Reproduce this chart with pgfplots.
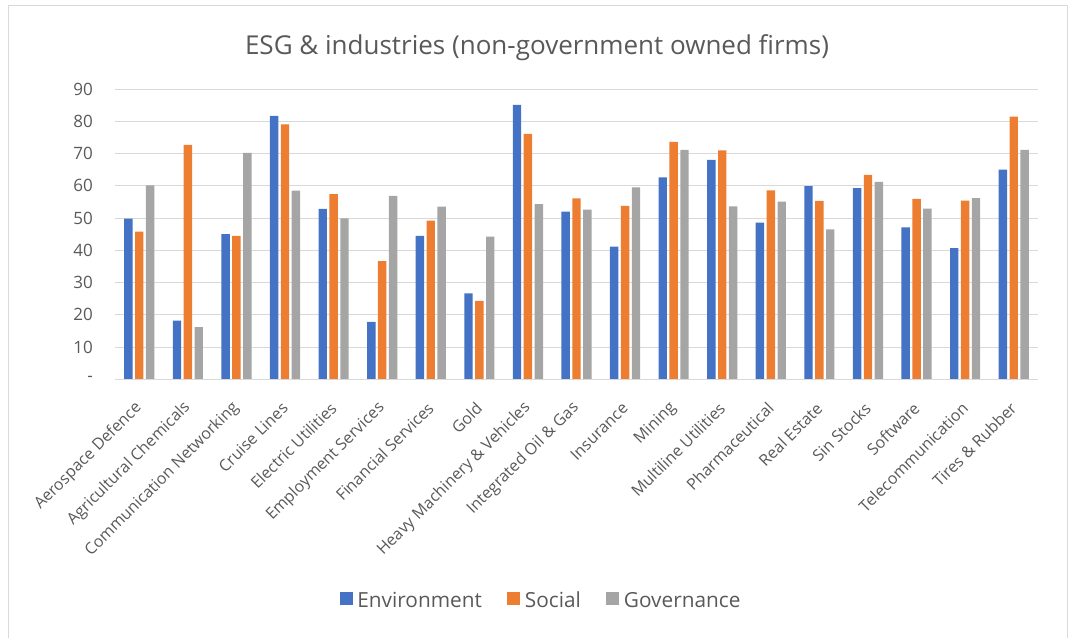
\documentclass[border=0pt]{standalone}
\usepackage{pgfplots}
\pgfplotsset{compat=1.18}
\usepackage{pgfplotstable}
\usepackage{fontspec}
\setmainfont{Open Sans}
\definecolor{cEnv}{HTML}{4472C4}
\definecolor{cSoc}{HTML}{ED7D31}
\definecolor{cGov}{HTML}{A5A5A5}
\definecolor{txt}{HTML}{595959}
\definecolor{grd}{HTML}{D9D9D9}
\pgfplotstableread{
x env soc gov
0 49.8 45.8 60.1
1 18.2 72.7 16.2
2 45.0 44.5 70.2
3 81.7 79.0 58.5
4 52.8 57.4 49.9
5 17.8 36.6 56.9
6 44.5 49.2 53.5
7 26.6 24.3 44.2
8 85.1 76.1 54.3
9 52.0 56.1 52.6
10 41.1 53.8 59.5
11 62.6 73.6 71.1
12 68.0 71.0 53.6
13 48.6 58.6 55.1
14 59.9 55.3 46.5
15 59.3 63.4 61.2
16 47.1 55.9 52.9
17 40.7 55.4 56.2
18 65.0 81.4 71.1
}\datatable
\begin{document}
\begin{tikzpicture}
\begin{scope}[x=0.75pt,y=0.75pt]
\useasboundingbox (0,0) rectangle (1068,637);
\draw[grd, line width=0.75pt] (8,-20) -- (8,631) -- (1067,631) -- (1067,-20);
\node[txt, font=\fontsize{19.5}{22}\selectfont, anchor=base] at (537,582) {ESG \& industries (non-government owned firms)};
\end{scope}
\begin{axis}[
  at={(86.25pt,193.3pt)}, anchor=south west,
  scale only axis, width=692.25pt, height=217.7pt,
  ymin=0, ymax=90, xmin=-0.5, xmax=18.5,
  ybar, bar width=0.173,
  axis line style={draw=none},
  ytick={0,10,...,90},
  yticklabels={-,10,20,30,40,50,60,70,80,90},
  ymajorgrids, grid style={grd, line width=0.75pt},
  major tick length=0pt,
  xtick={0,...,18},
  xticklabels={Aerospace Defence,Agricultural Chemicals,Communication Networking,Cruise Lines,Electric Utilities,Employment Services,Financial Services,Gold,Heavy Machinery \& Vehicles,Integrated Oil \& Gas,Insurance,Mining,Multiline Utilities,Pharmaceutical,Real Estate,Sin Stocks,Software,Telecommunication,Tires \& Rubber},
  xticklabel style={xshift=0pt, yshift=-19.5pt, rotate=45, anchor=east, font=\fontsize{12}{14}\selectfont, text=txt, inner sep=0pt},
  yticklabel style={anchor=east, font=\fontsize{12.75}{14}\selectfont, text=txt, inner sep=0pt, xshift=-16.5pt},
  legend columns=-1,
  legend style={draw=none, fill=none, at={(0.462,-0.764)}, anchor=center,
    font=\fontsize{15.6}{18}\selectfont, text=txt,
    /tikz/every odd column/.append style={column sep=1.5pt},
    /tikz/every even column/.append style={column sep=17pt}},
  legend image code/.code={\fill[#1] (0pt,-3.2pt) rectangle (9.75pt,6.55pt);},
]
\addplot[fill=cEnv, draw=none, bar shift=-0.224] table[x=x,y=env] {\datatable};
\addplot[fill=cSoc, draw=none, bar shift=0] table[x=x,y=soc] {\datatable};
\addplot[fill=cGov, draw=none, bar shift=0.224] table[x=x,y=gov] {\datatable};
\draw[grd, line width=0.75pt] (axis cs:-0.5,0) -- (axis cs:18.5,0);
\legend{Environment,Social,Governance}
\end{axis}
\end{tikzpicture}
\end{document}
